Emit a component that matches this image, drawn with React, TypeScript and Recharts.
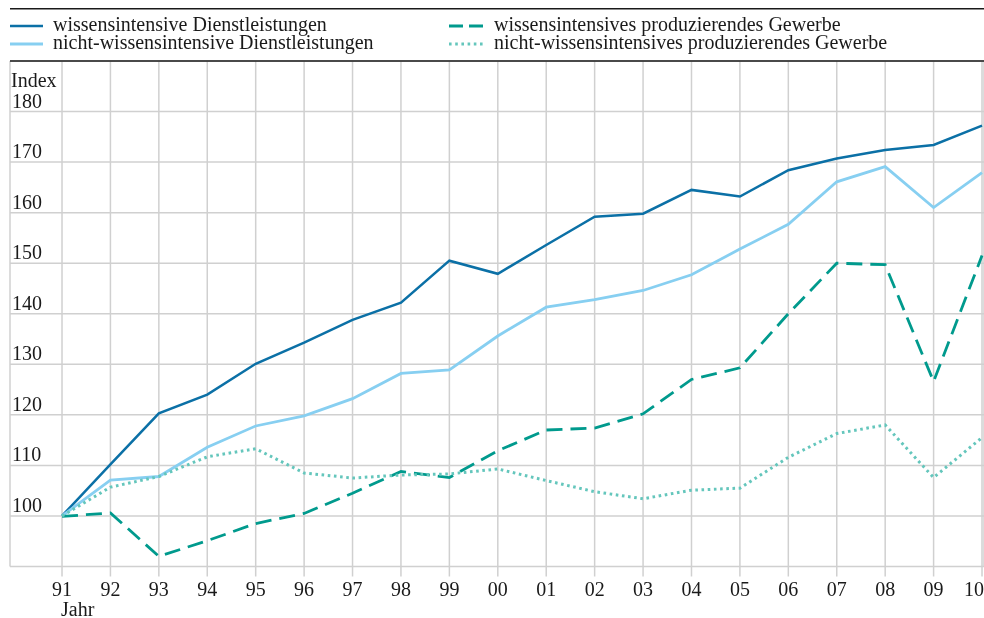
import React from 'react';
import { LineChart, Line, XAxis, YAxis, CartesianGrid, ReferenceLine, Legend } from 'recharts';

const years = ['91','92','93','94','95','96','97','98','99','00','01','02','03','04','05','06','07','08','09','10'];
const wissDienst = [100,110.2,120.3,124,130.1,134.3,138.8,142.2,150.5,147.9,153.6,159.2,159.8,164.5,163.2,168.4,170.7,172.4,173.4,177.2];
const nichtWissDienst = [100,107.1,107.8,113.6,117.8,119.8,123.2,128.2,128.9,135.6,141.3,142.8,144.6,147.7,152.8,157.7,166.1,169.1,161.0,167.9];
const wissProd = [99.9,100.6,92.0,95.1,98.5,100.5,104.5,108.8,107.6,112.9,117.0,117.4,120.2,127.0,129.3,140.0,150.0,149.7,126.6,151.5];
const nichtWissProd = [100,105.7,107.8,111.7,113.3,108.5,107.5,108.1,108.3,109.3,107.0,104.8,103.4,105.1,105.5,111.6,116.3,118.0,107.6,115.5];
const yTicks = [90,100,110,120,130,140,150,160,170,180];

const series = [
  { key: 'wd', name: 'wissensintensive Dienstleistungen', color: '#0b70a6', dash: undefined as string | undefined, width: 2.5 },
  { key: 'nwd', name: 'nicht-wissensintensive Dienstleistungen', color: '#87cff1', dash: undefined as string | undefined, width: 2.8 },
  { key: 'wp', name: 'wissensintensives produzierendes Gewerbe', color: '#009a8d', dash: '16 8', width: 2.8 },
  { key: 'nwp', name: 'nicht-wissensintensives produzierendes Gewerbe', color: '#64c6bc', dash: '2.6 3.6', width: 3 },
];

const data = years.map((y, i) => ({
  i,
  wd: wissDienst[i],
  nwd: nichtWissDienst[i],
  wp: wissProd[i],
  nwp: nichtWissProd[i],
}));

const FONT = '"Liberation Serif", "Times New Roman", serif';
const TEXT = '#1a1a1a';
const GRID = '#d0d0d0';

const LegendContent = () => {
  const cols = [
    { lx1: 0, lx2: 33, tx: 43 },
    { lx1: 439, lx2: 473, tx: 484 },
  ];
  const rows = [{ ly: 18, ty: 23 }, { ly: 36, ty: 41 }];
  const order = [
    [series[0], 0, 0],
    [series[1], 0, 1],
    [series[2], 1, 0],
    [series[3], 1, 1],
  ] as const;
  return (
    <svg width={974} height={53} style={{ display: 'block' }}>
      <line x1={0} x2={974} y1={0.75} y2={0.75} stroke={TEXT} strokeWidth={1.5} />
      {order.map(([s, c, r]) => (
        <g key={s.key}>
          <line x1={cols[c].lx1} x2={cols[c].lx2} y1={rows[r].ly} y2={rows[r].ly} stroke={s.color} strokeWidth={s.width} strokeDasharray={s.dash === '16 8' ? '14 6' : s.dash} />
          <text x={cols[c].tx} y={rows[r].ty} fontFamily={FONT} fontSize={20} fill={TEXT}>{s.name}</text>
        </g>
      ))}
    </svg>
  );
};

const YTick = (props: any) => {
  const { y, payload } = props;
  if (payload.value === 90) return <g />;
  return (
    <g>
      {payload.value === 180 && (
        <text x={11} y={y - 25} fontFamily={FONT} fontSize={20} fill={TEXT} textAnchor="start">Index</text>
      )}
      <text x={12} y={y - 4} fontFamily={FONT} fontSize={20} fill={TEXT} textAnchor="start">{payload.value}</text>
    </g>
  );
};

const XTick = (props: any) => {
  const { x, y, payload } = props;
  const last = payload.value === years.length - 1;
  return (
    <g>
      <text x={last ? x + 2 : x} y={y + 19} fontFamily={FONT} fontSize={20} fill={TEXT} textAnchor={last ? 'end' : 'middle'}>{years[payload.value]}</text>
      {payload.value === 0 && (
        <text x={x - 1} y={y + 39} fontFamily={FONT} fontSize={20} fill={TEXT} textAnchor="start">Jahr</text>
      )}
    </g>
  );
};

export default function App() {
  return (
    <div style={{ width: 984, height: 618, position: 'fixed', left: 0, top: 0, overflow: 'hidden' }}>
      <LineChart width={984} height={618} data={data} margin={{ top: 61, right: 0, bottom: 0, left: 8 }}>
        <CartesianGrid stroke={GRID} strokeWidth={1.5} />
        <XAxis
          dataKey="i"
          type="number"
          domain={[-1.074, 19.041]}
          ticks={years.map((_, i) => i)}
          interval={0}
          height={51.5}
          axisLine={false}
          tickLine={{ stroke: GRID, strokeWidth: 1.5 }}
          tickSize={10}
          tickMargin={0}
          tick={<XTick />}
        />
        <YAxis
          type="number"
          domain={[90, 190]}
          ticks={yTicks}
          interval={0}
          width={2}
          axisLine={false}
          tickLine={false}
          tick={<YTick />}
        />
        <ReferenceLine y={190} stroke={TEXT} strokeWidth={1.5} />
        <Legend layout="horizontal" verticalAlign="middle" content={<LegendContent />} wrapperStyle={{ position: 'absolute', top: 8, left: 10, width: 974, height: 53 }} />
        {series.map((s) => (
          <Line
            key={s.key}
            type="linear"
            dataKey={s.key}
            name={s.name}
            stroke={s.color}
            strokeWidth={s.width}
            strokeDasharray={s.dash}
            dot={false}
            activeDot={false}
            isAnimationActive={false}
          />
        ))}
      </LineChart>
    </div>
  );
}
